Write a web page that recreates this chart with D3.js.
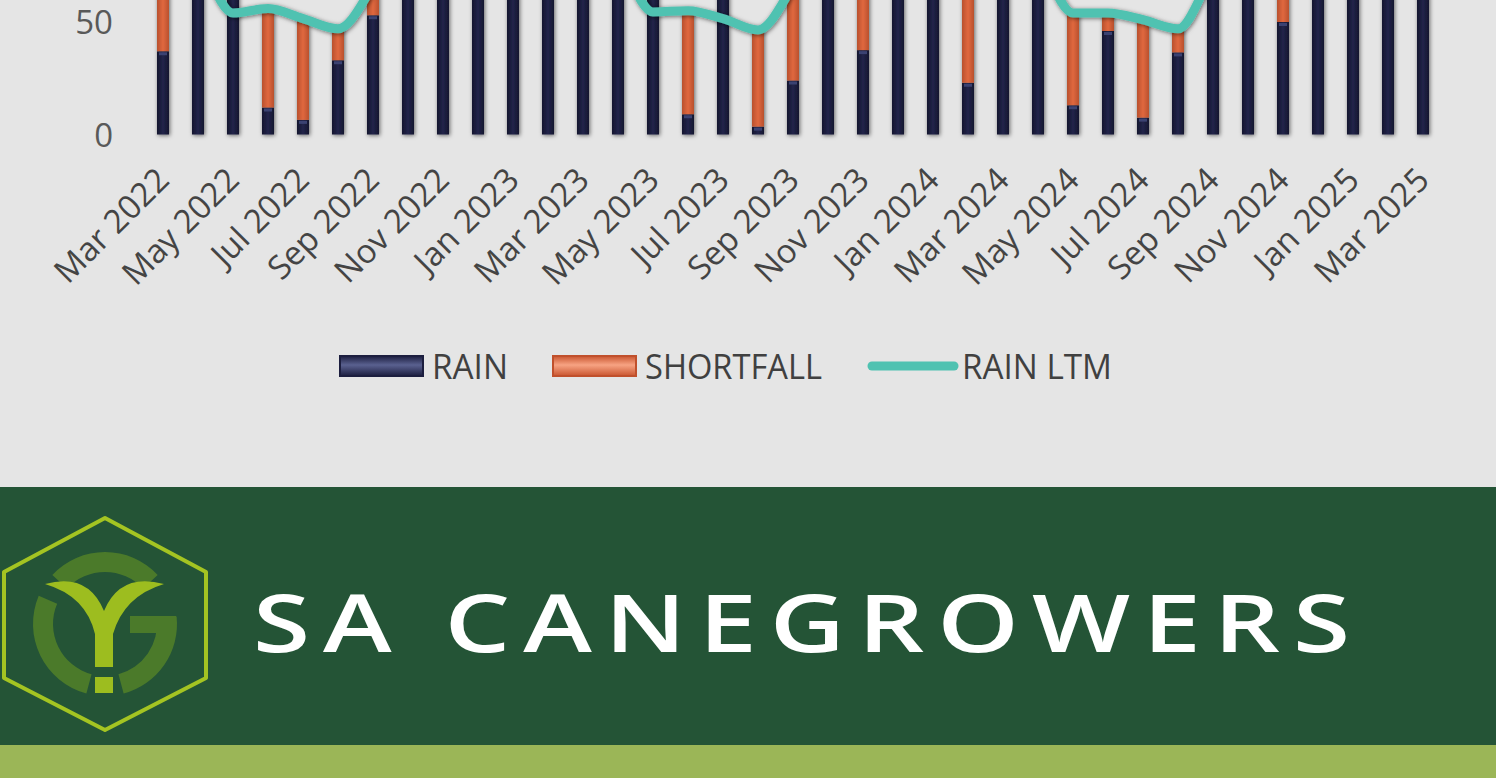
<!DOCTYPE html>
<html>
<head>
<meta charset="utf-8">
<script src="https://cdn.jsdelivr.net/npm/d3@7"></script>
<style>
  html, body { margin: 0; padding: 0; background: #e5e5e5; overflow: hidden; }
  svg { display: block; }
</style>
</head>
<body>
<div id="chart"></div>
<script>
// monthly categories, Mar 2022 .. Mar 2025
var months = ["Mar 2022","Apr 2022","May 2022","Jun 2022","Jul 2022","Aug 2022","Sep 2022","Oct 2022","Nov 2022","Dec 2022",
              "Jan 2023","Feb 2023","Mar 2023","Apr 2023","May 2023","Jun 2023","Jul 2023","Aug 2023","Sep 2023","Oct 2023",
              "Nov 2023","Dec 2023","Jan 2024","Feb 2024","Mar 2024","Apr 2024","May 2024","Jun 2024","Jul 2024","Aug 2024",
              "Sep 2024","Oct 2024","Nov 2024","Dec 2024","Jan 2025","Feb 2025","Mar 2025"];

// rain (mm); values above ~60 are cut off by the crop
var rain = [37, 88, 72, 12, 6.5, 33, 53, 112, 145, 160,
            180, 150, 120, 90, 68, 9, 64, 3.5, 24, 105,
            37.5, 135, 150, 23, 118, 82, 13, 46, 7.5, 36.5,
            80, 100, 50, 130, 140, 125, 115];

// shortfall against the long term mean
var shortfall = [68, 0, 0, 44, 45, 14, 13, 0, 0, 0,
                 0, 0, 0, 0, 0, 46, 0, 43, 42, 0,
                 72.5, 0, 0, 92, 0, 0, 41, 8, 43.5, 10.5,
                 0, 0, 60, 0, 0, 0, 0];

// long term mean rain
var rainLtm = [105, 80, 54, 56, 51.5, 47, 66, 95, 110, 118,
               125, 115, 105, 80, 54.5, 55, 51.5, 46.5, 66, 95,
               110, 118, 125, 115, 105, 80, 54, 54, 51, 47,
               72, 95, 110, 118, 125, 115, 105];

var yTicks = [0, 50];
var legendNames = ["RAIN", "SHORTFALL", "RAIN LTM"];

var W = 1496, H = 778;
var colLtm = "#4fc2b1";

var svg = d3.select("#chart").append("svg")
    .attr("width", W)
    .attr("height", H);

var defs = svg.append("defs");

var shadow = defs.append("filter").attr("id", "shadow")
    .attr("x", "-50%").attr("y", "-50%").attr("width", "200%").attr("height", "200%");
shadow.append("feDropShadow")
    .attr("dx", 1).attr("dy", 1).attr("stdDeviation", 2)
    .attr("flood-color", "#000").attr("flood-opacity", 0.55);

// horizontal bevel gradients for bars
function barGradient(id, edge, mid) {
    var g = defs.append("linearGradient").attr("id", id)
        .attr("x1", 0).attr("x2", 1).attr("y1", 0).attr("y2", 0);
    g.append("stop").attr("offset", "0%").attr("stop-color", edge);
    g.append("stop").attr("offset", "50%").attr("stop-color", mid);
    g.append("stop").attr("offset", "100%").attr("stop-color", edge);
}
barGradient("gRain", "#15162f", "#22254a");
barGradient("gShort", "#b9502d", "#e0683f");

// vertical gradients for legend swatches
function swatchGradient(id, edge, mid) {
    var g = defs.append("linearGradient").attr("id", id)
        .attr("x1", 0).attr("x2", 0).attr("y1", 0).attr("y2", 1);
    g.append("stop").attr("offset", "0%").attr("stop-color", edge);
    g.append("stop").attr("offset", "45%").attr("stop-color", mid);
    g.append("stop").attr("offset", "100%").attr("stop-color", edge);
}
swatchGradient("sRain", "#1c1e3f", "#5a6190");
swatchGradient("sShort", "#c9552f", "#f7a383");

// background of the chart part
svg.append("rect").attr("width", W).attr("height", 487).attr("fill", "#e5e5e5");

// scales
var x = d3.scaleBand()
    .domain(months)
    .range([145.5, 145.5 + 35 * months.length]);

var y = d3.scaleLinear()
    .domain([0, 50])
    .range([134.5, 22]);

var barW = 12;
function cx(m) { return x(m) + x.bandwidth() / 2; }

// bars
var bars = svg.append("g").attr("filter", "url(#shadow)");

bars.selectAll(".rain")
    .data(months)
    .enter().append("rect")
    .attr("class", "rain")
    .attr("x", function(d) { return cx(d) - barW / 2; })
    .attr("width", barW)
    .attr("y", function(d, i) { return y(rain[i]); })
    .attr("height", function(d, i) { return y(0) - y(rain[i]); })
    .attr("fill", "url(#gRain)");

bars.selectAll(".short")
    .data(months)
    .enter().append("rect")
    .attr("class", "short")
    .attr("x", function(d) { return cx(d) - barW / 2; })
    .attr("width", barW)
    .attr("y", function(d, i) { return y(rain[i] + shortfall[i]); })
    .attr("height", function(d, i) { return y(rain[i]) - y(rain[i] + shortfall[i]); })
    .attr("fill", "url(#gShort)");

// thin highlight where rain meets shortfall
bars.selectAll(".cap")
    .data(months.filter(function(d, i) { return shortfall[i] > 0; }))
    .enter().append("rect")
    .attr("class", "cap")
    .attr("x", function(d) { return cx(d) - barW / 2 + 2; })
    .attr("width", barW - 4)
    .attr("y", function(d) { return y(rain[months.indexOf(d)]) + 1; })
    .attr("height", 3)
    .attr("fill", "#3b4272");

// LTM line
var line = d3.line()
    .x(function(d, i) { return cx(months[i]); })
    .y(function(d) { return y(d); })
    .curve(d3.curveMonotoneX);

svg.append("path")
    .datum(rainLtm)
    .attr("d", line)
    .attr("fill", "none")
    .attr("stroke", colLtm)
    .attr("stroke-width", 9)
    .attr("stroke-linejoin", "round")
    .attr("filter", "url(#shadow)");

// y labels
svg.selectAll(".ylab")
    .data(yTicks)
    .enter().append("text")
    .attr("class", "ylab")
    .attr("x", 113)
    .attr("y", function(d) { return y(d) + 12; })
    .attr("text-anchor", "end")
    .style("font-family", "'Open Sans', sans-serif")
    .style("font-size", "33px")
    .style("fill", "#595959")
    .text(function(d) { return d; });

// x labels, every second month
var xAxis = d3.axisBottom(x)
    .tickValues(months.filter(function(d, i) { return i % 2 === 0; }))
    .tickSize(0);

var gx = svg.append("g").call(xAxis);
gx.select(".domain").remove();
gx.selectAll("text")
    .attr("x", 0).attr("y", 0).attr("dy", 0)
    .attr("transform", "translate(8,182) rotate(-45)")
    .attr("text-anchor", "end")
    .style("font-family", "'Open Sans', sans-serif")
    .style("font-size", "33px")
    .style("fill", "#444444");

// legend
var legend = svg.append("g");
var swatchX = [340, 553, 868];
var textX = [432, 645, 962];
var textW = [76, 177, 150];

legend.append("rect").attr("x", swatchX[0]).attr("y", 356).attr("width", 83).attr("height", 20)
    .attr("fill", "url(#sRain)").attr("stroke", "#1c1e3f").attr("stroke-width", 2);
legend.append("rect").attr("x", swatchX[1]).attr("y", 356).attr("width", 83).attr("height", 20)
    .attr("fill", "url(#sShort)").attr("stroke", "#c0502c").attr("stroke-width", 2);
legend.append("line").attr("x1", swatchX[2] + 4).attr("x2", swatchX[2] + 86).attr("y1", 366).attr("y2", 366)
    .attr("stroke", colLtm).attr("stroke-width", 9).attr("stroke-linecap", "round");

legend.selectAll("text")
    .data(legendNames)
    .enter().append("text")
    .attr("x", function(d, i) { return textX[i]; })
    .attr("y", 379)
    .attr("textLength", function(d, i) { return textW[i]; })
    .attr("lengthAdjust", "spacingAndGlyphs")
    .style("font-family", "'Open Sans', sans-serif")
    .style("font-size", "35px")
    .style("fill", "#404040")
    .text(function(d) { return d; });

// footer band
svg.append("rect").attr("x", 0).attr("y", 487).attr("width", W).attr("height", 258).attr("fill", "#245436");
svg.append("rect").attr("x", 0).attr("y", 745).attr("width", W).attr("height", 33).attr("fill", "#9bb657");

// logo
var logo = svg.append("g");
var hex = [[105, 518], [206, 572], [206, 678], [105, 730], [4, 678], [4, 572]];
logo.append("path")
    .attr("d", d3.line().curve(d3.curveLinearClosed)(hex))
    .attr("fill", "none")
    .attr("stroke", "#a4c422")
    .attr("stroke-width", 4)
    .attr("stroke-linejoin", "round");

var ring = d3.arc().innerRadius(52).outerRadius(72);
var deg = Math.PI / 180;
var ringParts = [[-47, 47], [-165, -67], [84, 165]];
logo.selectAll(".ring")
    .data(ringParts)
    .enter().append("path")
    .attr("class", "ring")
    .attr("transform", "translate(105,624)")
    .attr("d", function(d) { return ring({startAngle: d[0] * deg, endAngle: d[1] * deg}); })
    .attr("fill", "#4b7a2a");
logo.append("rect").attr("x", 130).attr("y", 616).attr("width", 46).attr("height", 17).attr("fill", "#4b7a2a");

logo.append("path")
    .attr("d", "M45,584 Q88,572 104,611 Q120,572 164,584 Q124,596 113,634 L113,667 L95,667 L95,634 Q86,596 45,584 Z")
    .attr("fill", "#9dbd1f");
logo.append("rect").attr("x", 95).attr("y", 677).attr("width", 18).attr("height", 16).attr("fill", "#9dbd1f");

svg.append("text")
    .attr("x", 253)
    .attr("y", 652)
    .attr("textLength", 1110)
    .attr("lengthAdjust", "spacingAndGlyphs")
    .style("font-family", "'Open Sans', sans-serif")
    .style("font-weight", 600)
    .style("font-size", "80px")
    .style("letter-spacing", "10px")
    .style("fill", "#ffffff")
    .text("SA CANEGROWERS");
</script>
</body>
</html>
